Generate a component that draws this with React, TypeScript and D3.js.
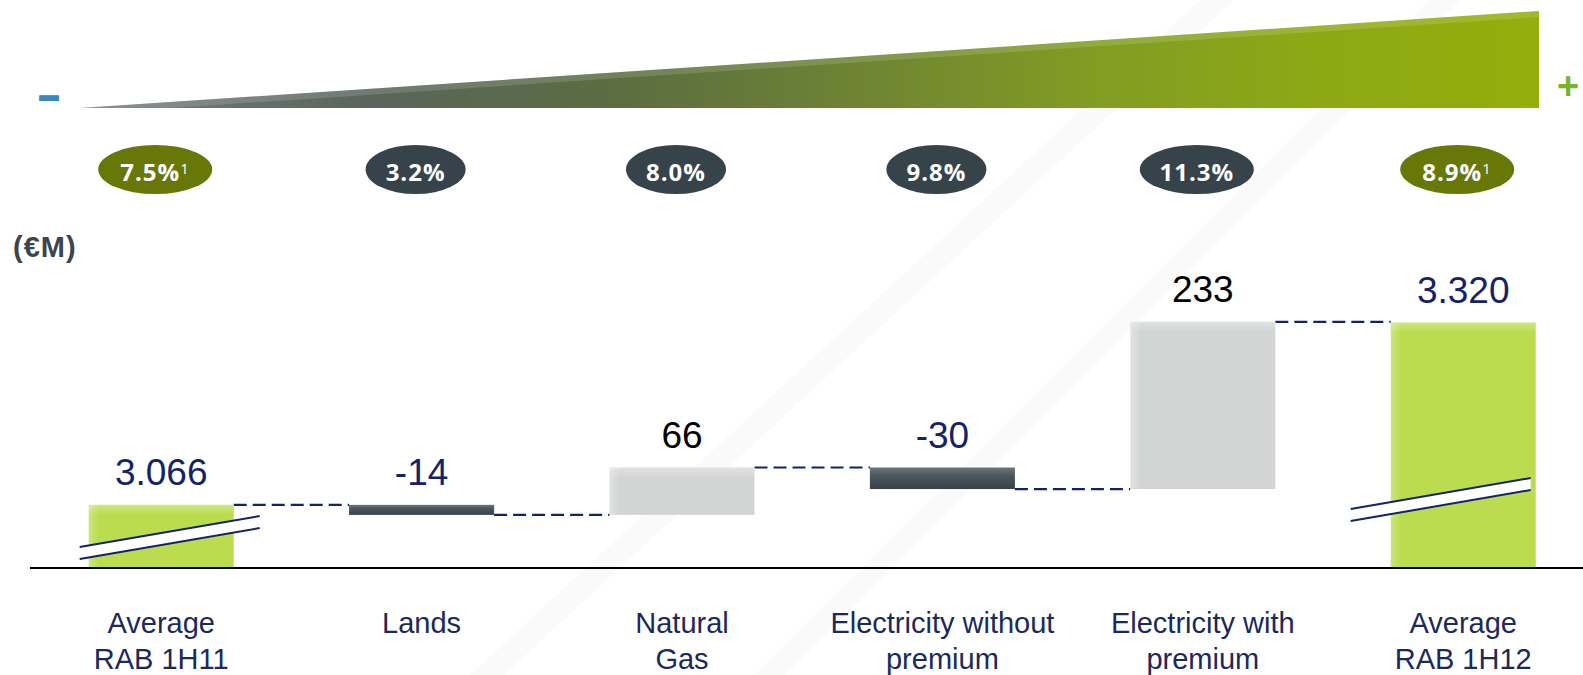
import React from "react";
import * as d3 from "d3";

// ---------- data ----------
const categories: string[][] = [
  ["Average", "RAB 1H11"],
  ["Lands"],
  ["Natural", "Gas"],
  ["Electricity without", "premium"],
  ["Electricity with", "premium"],
  ["Average", "RAB 1H12"],
];
const values: number[] = [3066, -14, 66, -30, 233, 3320];
const kinds: string[] = ["total", "delta", "delta", "delta", "delta", "total"];
const valueLabels: string[] = ["3.066", "-14", "66", "-30", "233", "3.320"];
const rates: string[] = ["7.5%", "3.2%", "8.0%", "9.8%", "11.3%", "8.9%"];
const rateNotes: string[] = ["1", "", "", "", "", "1"];
const rateKinds: string[] = ["total", "segment", "segment", "segment", "segment", "total"];
const unitLabel = "(€M)";
const yDomain: number[] = [2978, 3350];

// ---------- layout ----------
const W = 1583;
const H = 675;
const baseY = 568;
const NAVY = "#14226a";
const LABEL_NAVY = "#1b295c";

export default function App() {
  const keys = categories.map((c) => c.join(" "));
  const x = d3.scaleBand<string>().domain(keys).range([31, 31 + 6 * 260.4]).paddingInner(0.443).paddingOuter(0.2215);
  const y = d3.scaleLinear().domain(yDomain).range([baseY, 301]);
  const bw = x.bandwidth();

  // compute waterfall geometry
  let running = 0;
  const bars = values.map((v, i) => {
    let y0: number, y1: number, endVal: number;
    if (kinds[i] === "total") {
      y0 = y.range()[0];
      y1 = y(v);
      endVal = i === 0 ? v : running;
      running = i === 0 ? v : running;
    } else {
      const start = running;
      running = running + v;
      y0 = y(start);
      y1 = y(running);
      endVal = running;
    }
    const top = Math.min(y0, y1);
    const bottom = Math.max(y0, y1);
    let fill = "url(#gGreen)";
    let kind = "green";
    if (kinds[i] === "delta") {
      kind = v < 0 ? "dark" : "grey";
      fill = v < 0 ? "url(#gDark)" : "url(#gGrey)";
    }
    return { i, x: x(keys[i])!, top, bottom, endVal, fill, kind, v };
  });

  // connectors
  const connectors = bars.slice(0, -1).map((b, i) => {
    const yy = y(b.endVal);
    return { x1: b.x + bw, x2: bars[i + 1].x, y: yy };
  });

  const wedge = "80,108 1539,11 1539,108";
  const stripes = [
    { t: 1200, b: 470, w: 34 },
    { t: 1430, b: 755, w: 30 },
  ];

  return (
    <svg width={W} height={H} style={{ position: "absolute", left: 0, top: 0, background: "#fff" }}>
      <defs>
        <linearGradient id="gWedge" gradientUnits="userSpaceOnUse" x1={80} y1={0} x2={1539} y2={0}>
          <stop offset="0" stopColor="#767e83" />
          <stop offset="0.2" stopColor="#59655b" />
          <stop offset="0.37" stopColor="#5c6d40" />
          <stop offset="0.5" stopColor="#6a7f36" />
          <stop offset="0.7" stopColor="#829d22" />
          <stop offset="0.85" stopColor="#8ea815" />
          <stop offset="1" stopColor="#94ae0b" />
        </linearGradient>
        <clipPath id="wedgeClip">
          <polygon points={wedge} />
        </clipPath>
        <linearGradient id="gGreen" x1="0" y1="0" x2="1" y2="0">
          <stop offset="0" stopColor="#cce67f" />
          <stop offset="0.07" stopColor="#bbdc4e" />
          <stop offset="1" stopColor="#bbdc4e" />
        </linearGradient>
        <linearGradient id="gGrey" x1="0" y1="0" x2="1" y2="0">
          <stop offset="0" stopColor="#e0e2e1" />
          <stop offset="0.07" stopColor="#d3d5d4" />
          <stop offset="1" stopColor="#d3d5d4" />
        </linearGradient>
        <linearGradient id="gDark" x1="0" y1="0" x2="0" y2="1">
          <stop offset="0" stopColor="#6c757b" />
          <stop offset="0.4" stopColor="#4a555c" />
          <stop offset="1" stopColor="#37424a" />
        </linearGradient>
        <linearGradient id="gTopHi" x1="0" y1="0" x2="0" y2="1">
          <stop offset="0" stopColor="#ffffff" stopOpacity="0.3" />
          <stop offset="1" stopColor="#ffffff" stopOpacity="0" />
        </linearGradient>
      </defs>

      {/* faint background stripes */}
      {stripes.map((s, i) => (
        <polygon
          key={i}
          points={`${s.t},0 ${s.t + s.w},0 ${s.b + s.w},${H} ${s.b},${H}`}
          fill="#fafafa"
        />
      ))}

      {/* gradient wedge */}
      <polygon points={wedge} fill="url(#gWedge)" />
      <g clipPath="url(#wedgeClip)">
        <line x1={80} y1={108} x2={1539} y2={11} stroke="#ffffff" strokeOpacity={0.14} strokeWidth={12} />
      </g>
      <text x={39} y={108} fontFamily="Liberation Sans, Arial, sans-serif" fontWeight="bold" fontSize={36} fill="#3a87bd" stroke="#3a87bd" strokeWidth={2}>
        –
      </text>
      <text x={1557} y={99} fontFamily="Liberation Sans, Arial, sans-serif" fontWeight="bold" fontSize={38} fill="#78b42a">
        +
      </text>

      {/* rate ellipses */}
      {rates.map((r, i) => {
        const cx = x(keys[i])! + bw / 2 - 6;
        const n = r.length + (rateNotes[i] ? 1 : 0);
        const rx = 22 + 7 * n;
        return (
          <g key={i}>
            <ellipse cx={cx} cy={169.5} rx={rx} ry={24.5} fill={rateKinds[i] === "total" ? "#677809" : "#37434b"} />
            <text
              x={cx - (rateNotes[i] ? 5 : 0)}
              y={180.5}
              textAnchor="middle"
              fontFamily="Open Sans, Liberation Sans, sans-serif"
              fontWeight="bold"
              fontSize={24}
              letterSpacing={1}
              fill="#ffffff"
            >
              {r}
            </text>
            {rateNotes[i] && (
              <text x={cx + 25} y={174} fontFamily="Open Sans, Liberation Sans, sans-serif" fontSize={15} fill="#ffffff">
                {rateNotes[i]}
              </text>
            )}
          </g>
        );
      })}

      {/* unit label */}
      <text x={13} y={257} fontFamily="Liberation Sans, Arial, sans-serif" fontWeight="bold" fontSize={29} letterSpacing={1} fill="#3b454d">
        {unitLabel}
      </text>

      {/* connectors */}
      {connectors.map((c, i) => (
        <line key={i} x1={c.x1} x2={c.x2} y1={c.y} y2={c.y} stroke={NAVY} strokeWidth={2.2} strokeDasharray="13,6" />
      ))}

      {/* bars */}
      {bars.map((b) => (
        <g key={b.i}>
          <rect x={b.x} y={b.top} width={bw} height={b.bottom - b.top} fill={b.fill} />
          {b.kind !== "dark" && (
            <rect x={b.x} y={b.top} width={bw} height={Math.min(10, b.bottom - b.top)} fill="url(#gTopHi)" />
          )}
        </g>
      ))}

      {/* axis break marks */}
      {[0, 5].map((i) => {
        const bx = x(keys[i])!;
        const xl = i === 0 ? bx - 9 : bx - 40;
        const xr = i === 0 ? bx + bw + 26 : bx + bw - 5;
        const yl = i === 0 ? baseY - 21 : baseY - 59;
        const yr = yl - 31;
        const gap = 12;
        return (
          <g key={"brk" + i}>
            <polygon points={`${xl},${yl} ${xr},${yr} ${xr},${yr + gap} ${xl},${yl + gap}`} fill="#ffffff" />
            <line x1={xl} y1={yl} x2={xr} y2={yr} stroke={NAVY} strokeWidth={2} />
            <line x1={xl} y1={yl + gap} x2={xr} y2={yr + gap} stroke={NAVY} strokeWidth={2} />
          </g>
        );
      })}

      {/* baseline */}
      <line x1={30} x2={W} y1={baseY} y2={baseY} stroke="#000" strokeWidth={2} />

      {/* value labels */}
      {bars.map((b) => (
        <text
          key={"v" + b.i}
          x={b.x + bw / 2}
          y={b.top - 20}
          textAnchor="middle"
          fontFamily="Liberation Sans, Arial, sans-serif"
          fontSize={37}
          fill={b.kind === "grey" ? "#000000" : NAVY}
        >
          {valueLabels[b.i]}
        </text>
      ))}

      {/* category labels */}
      {categories.map((lines, i) => (
        <text
          key={"c" + i}
          x={x(keys[i])! + bw / 2}
          y={633}
          textAnchor="middle"
          fontFamily="Liberation Sans, Arial, sans-serif"
          fontSize={29}
          fill={LABEL_NAVY}
        >
          {lines.map((l, j) => (
            <tspan key={j} x={x(keys[i])! + bw / 2} dy={j === 0 ? 0 : 36}>
              {l}
            </tspan>
          ))}
        </text>
      ))}
    </svg>
  );
}
